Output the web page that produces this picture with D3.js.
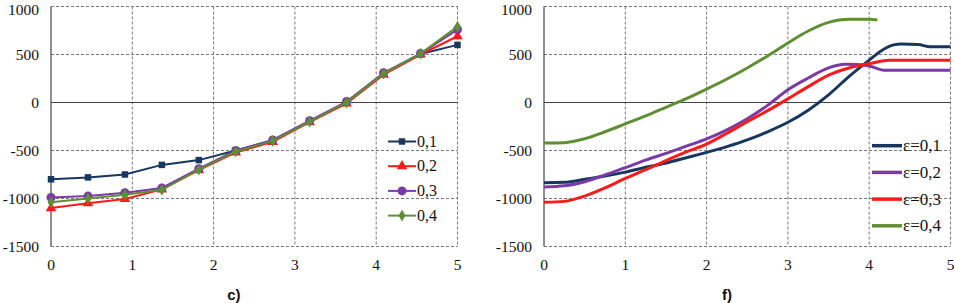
<!DOCTYPE html>
<html lang="en">
<head>
    <meta charset="UTF-8">
    <title>Charts c) and f)</title>
    <script src="https://d3js.org/d3.v7.min.js"></script>
    <style>
        body { margin: 0; background: #fff; }
    </style>
</head>
<body>
<div id="chart"></div>
<script>
    // Panel c) - marker series, 12 points from 0 to 5
    const cX = d3.range(12).map(i => i * 5 / 11);
    const cNames = ["0,1", "0,2", "0,3", "0,4"];
    const c01 = [-800, -780, -750, -650, -600, -500, -395, -200, 5, 300, 505, 600];
    const c02 = [-1100, -1050, -1005, -905, -705, -520, -410, -205, -10, 290, 500, 690];
    const c03 = [-990, -975, -940, -890, -690, -500, -390, -190, 10, 310, 510, 760];
    const c04 = [-1040, -1000, -960, -910, -700, -510, -400, -200, 0, 300, 510, 790];

    // Panel f) - smooth curves
    const fNames = ["ε=0,1", "ε=0,2", "ε=0,3", "ε=0,4"];
    const f01x = [0, 0.25, 0.5, 0.75, 1, 1.25, 1.5, 1.75, 2, 2.25, 2.5, 2.75, 3, 3.25, 3.5, 3.75, 4, 4.15, 4.3, 4.4, 4.6, 4.75, 5];
    const f01y = [-835, -832, -800, -765, -725, -675, -630, -575, -520, -460, -390, -305, -206, -80, 80, 270, 442, 540, 600, 610, 605, 580, 580];
    const f02x = [0, 0.25, 0.5, 0.75, 1, 1.25, 1.5, 1.75, 2, 2.25, 2.5, 2.75, 3, 3.25, 3.5, 3.7, 3.85, 4, 4.2, 5];
    const f02y = [-880, -868, -825, -755, -678, -600, -530, -455, -380, -285, -170, -30, 133, 255, 360, 398, 395, 380, 335, 335];
    const f03x = [0, 0.25, 0.5, 0.75, 1, 1.25, 1.5, 1.75, 2, 2.25, 2.5, 2.75, 3, 3.25, 3.5, 3.75, 4, 4.25, 5];
    const f03y = [-1040, -1030, -975, -890, -790, -700, -605, -515, -433, -320, -200, -85, 38, 165, 285, 360, 405, 440, 440];
    const f04x = [0, 0.25, 0.5, 0.75, 1, 1.25, 1.5, 1.75, 2, 2.25, 2.5, 2.75, 3, 3.25, 3.5, 3.75, 4, 4.1];
    const f04y = [-422, -418, -378, -305, -223, -140, -50, 40, 140, 245, 360, 485, 620, 745, 835, 868, 868, 860];

    const xTicks = [0, 1, 2, 3, 4, 5];
    const yTicks = [1000, 500, 0, -500, -1000, -1500];

    const navy = "#17375e", red = "#ff1a1a", purple = "#7a3ba6", green = "#5f8f35";
    const cColors = [navy, red, purple, green];
    const fColors = [navy, purple, red, green];
    const serif = "\"Liberation Serif\"";

    const svg = d3.select("#chart").append("svg")
        .attr("width", 955).attr("height", 303);

    function panel(left, caption) {
        const x = d3.scaleLinear().domain([0, 5]).range([left, left + 406.5]);
        const y = d3.scaleLinear().domain([-1500, 1000]).range([246.5, 6.5]);
        const g = svg.append("g");

        // dashed grid
        xTicks.filter(d => d > 0).forEach(d => {
            g.append("line").attr("x1", x(d)).attr("x2", x(d)).attr("y1", y(1000)).attr("y2", y(-1500))
                .attr("stroke", "#777").attr("stroke-dasharray", "3,2");
        });
        yTicks.filter(d => d !== 0).forEach(d => {
            g.append("line").attr("x1", x(0)).attr("x2", x(5)).attr("y1", y(d)).attr("y2", y(d))
                .attr("stroke", "#777").attr("stroke-dasharray", "3,2");
        });
        // zero line and y axis
        g.append("line").attr("x1", x(0)).attr("x2", x(5)).attr("y1", y(0)).attr("y2", y(0))
            .attr("stroke", "#444").attr("stroke-width", 1);
        g.append("line").attr("x1", x(0)).attr("x2", x(0)).attr("y1", y(1000)).attr("y2", y(-1500))
            .attr("stroke", "#444").attr("stroke-width", 1.2);

        // tick labels (top one nudged down so it stays inside the page)
        g.selectAll(".yl").data(yTicks).join("text")
            .style("font-family", serif).style("font-size", "15.5px").attr("fill", "#111")
            .attr("x", x(0) - 12).attr("y", d => Math.max(y(d) + 5.5, 14.5))
            .attr("text-anchor", "end").text(d => d);
        g.selectAll(".xl").data(xTicks).join("text")
            .style("font-family", serif).style("font-size", "15.5px").attr("fill", "#111")
            .attr("x", d => x(d)).attr("y", 270)
            .attr("text-anchor", "middle").text(d => d);

        svg.append("text")
            .style("font-family", "\"Liberation Sans\"").style("font-weight", "bold").style("font-size", "15px")
            .attr("fill", "#111")
            .attr("x", x(2.25)).attr("y", 300).attr("text-anchor", "middle").text(caption);
        return { g, x, y };
    }

    // ---- panel c)
    const pc = panel(51, "c)");
    const cSeries = [c01, c02, c03, c04];
    const symbols = [d3.symbolSquare, d3.symbolTriangle, d3.symbolCircle, d3.symbolDiamond];
    const symSizes = [42, 48, 64, 40];
    const lineC = d3.line().x((d, i) => pc.x(cX[i])).y(d => pc.y(d));

    cSeries.forEach((s, k) => {
        pc.g.append("path").datum(s)
            .attr("fill", "none").attr("stroke", cColors[k]).attr("stroke-width", 2)
            .attr("d", lineC);
        pc.g.selectAll(".m" + k).data(s).join("path")
            .attr("transform", (d, i) => `translate(${pc.x(cX[i])},${pc.y(d)})`)
            .attr("d", d3.symbol(symbols[k], symSizes[k]))
            .attr("fill", cColors[k]);
    });

    // legend c)
    cNames.forEach((n, k) => {
        const ly = 141.5 + k * 24.7;
        pc.g.append("line").attr("x1", 388).attr("x2", 416).attr("y1", ly).attr("y2", ly)
            .attr("stroke", cColors[k]).attr("stroke-width", 2);
        pc.g.append("path").attr("transform", `translate(402,${ly})`)
            .attr("d", d3.symbol(symbols[k], symSizes[k])).attr("fill", cColors[k]);
        pc.g.append("text").style("font-family", serif).style("font-size", "16px").attr("fill", "#111")
            .attr("x", 417).attr("y", ly + 5).text(n);
    });

    // ---- panel f)
    const pf = panel(544, "f)");
    const fSeries = [[f01x, f01y], [f02x, f02y], [f03x, f03y], [f04x, f04y]];
    fSeries.forEach(([xs, ys], k) => {
        const line = d3.line().curve(d3.curveMonotoneX)
            .x((d, i) => pf.x(xs[i])).y(d => pf.y(d));
        pf.g.append("path").datum(ys)
            .attr("fill", "none").attr("stroke", fColors[k]).attr("stroke-width", 3)
            .attr("d", line);
    });

    // legend f)
    fNames.forEach((n, k) => {
        const ly = 145.7 + k * 26.7;
        pf.g.append("line").attr("x1", 872).attr("x2", 902).attr("y1", ly).attr("y2", ly)
            .attr("stroke", fColors[k]).attr("stroke-width", 3.5);
        pf.g.append("text").style("font-family", serif).style("font-size", "17px").attr("fill", "#111")
            .attr("x", 903).attr("y", ly + 5.5).text(n);
    });
</script>
</body>
</html>
